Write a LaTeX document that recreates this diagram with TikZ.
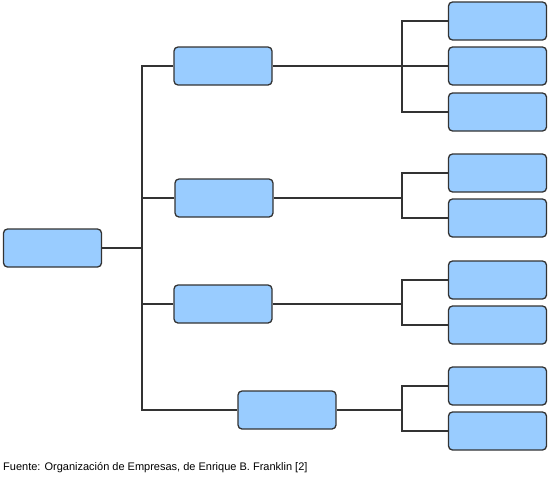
\documentclass[tikz,border=0pt]{standalone}
\usepackage{fontspec}
\setmainfont{Liberation Sans}
\usepackage{tikz}
\usetikzlibrary{positioning,calc}
\usepackage{xcolor}
\definecolor{boxfill}{HTML}{99CCFF}
\definecolor{boxline}{HTML}{333333}

\begin{document}
\begin{tikzpicture}[
    x=1pt,y=-1pt,
    unit/.style={draw=boxline,line width=1.3pt,rounded corners=4pt,fill=boxfill,minimum width=98pt,minimum height=38pt,inner sep=0pt},
    link/.style={draw=boxline,line width=1.1pt}
]
\useasboundingbox (0,0) rectangle (549,480);

% root and first level
\node[unit] (root) at (52.5,248) {};
\node[unit] (a) at (223,66) {};
\node[unit] (b) at (224,198) {};
\node[unit] (c) at (223,304) {};
\node[unit] (d) at (287,410) {};

% second level
\node[unit] (a1) at (497.5,21) {};
\node[unit] (a2) at (497.5,66) {};
\node[unit] (a3) at (497.5,112) {};
\node[unit] (b1) at (497.5,173) {};
\node[unit] (b2) at (497.5,218) {};
\node[unit] (c1) at (497.5,280) {};
\node[unit] (c2) at (497.5,325) {};
\node[unit] (d1) at (497.5,386) {};
\node[unit] (d2) at (497.5,431) {};

\coordinate (t0) at (142,248);
\coordinate (ta) at (402,66);
\coordinate (tb) at (402,198);
\coordinate (tc) at (402,304);
\coordinate (td) at (402,410);

% connectors
\draw[link] (root) -- (t0);
\draw[link] (a.west) -| (t0) |- (d.west);
\draw[link] (b.west) -- (b.west -| t0);
\draw[link] (c.west) -- (c.west -| t0);

\draw[link] (a) -- (a2);
\draw[link] (a1.west) -| (ta) |- (a3.west);
\draw[link] (b) -- (tb);
\draw[link] (b1.west) -| (tb) |- (b2.west);
\draw[link] (c) -- (tc);
\draw[link] (c1.west) -| (tc) |- (c2.west);
\draw[link] (d) -- (td);
\draw[link] (d1.west) -| (td) |- (d2.west);

\node[anchor=west,font=\fontsize{11}{12}\selectfont,inner sep=0pt] (src) at (3,468) {Fuente: Organización de Empresas, de Enrique B. Franklin [2]};
\end{tikzpicture}
\end{document}
